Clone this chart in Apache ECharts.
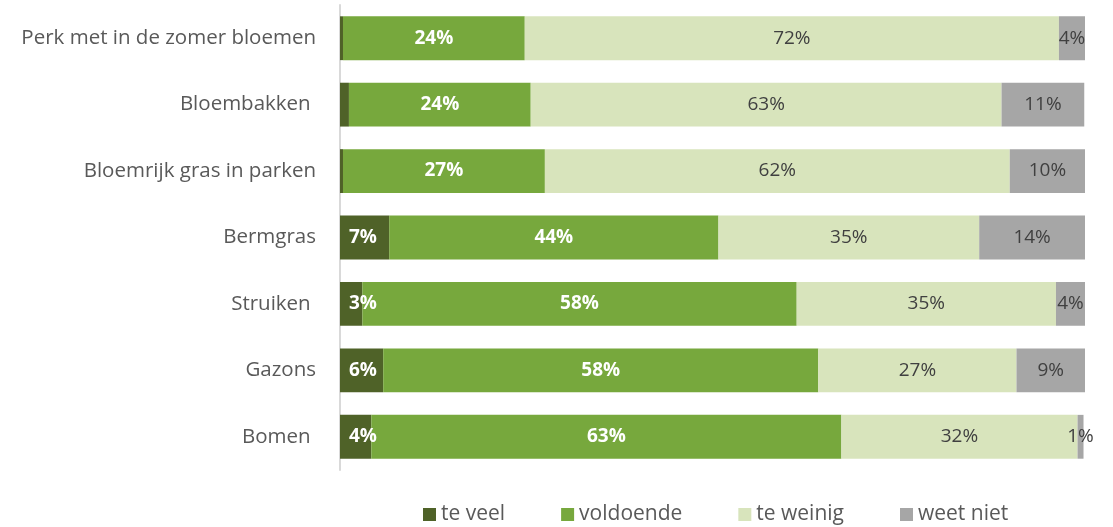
<!DOCTYPE html>
<html><head><meta charset="utf-8">
<script src="https://cdn.jsdelivr.net/npm/echarts@6/dist/echarts.min.js"></script>
<style>html,body{margin:0;padding:0;background:#fff}#c{width:1113px;height:527px}</style>
</head><body><div id="c"></div>
<script>
var categories = ["Perk met in de zomer bloemen","Bloembakken ","Bloemrijk gras in parken","Bermgras","Struiken ","Gazons","Bomen "];
var teVeel    = [0.4, 1.2, 0.4, 6.6, 3.0, 5.8, 4.2];
var voldoende = [24.4, 24.4, 27.1, 44.2, 58.3, 58.4, 63.1];
var teWeinig  = [71.7, 63.2, 62.4, 35.0, 34.8, 26.6, 31.7];
var weetNiet  = [3.8, 11.1, 10.1, 14.2, 4.0, 9.3, 0.8];
var teVeelLabels = ["", "", "", "7%", "3%", "6%", "4%"];
var voldoendeLabels = ["24%","24%","27%","44%","58%","58%","63%"];
var teWeinigLabels = ["72%","63%","62%","35%","35%","27%","32%"];
var weetNietLabels = ["4%","11%","10%","14%","4%","9%","1%"];

var FONT = "Open Sans";
function mk(name, vals, labels, color, txtColor, bold, pos) {
  return {
    name: name, type: 'bar', stack: 'a', barCategoryGap: '34%',
    itemStyle: {color: color},
    label: {show: true, position: pos || 'inside', distance: 9, color: txtColor, fontFamily: FONT, fontSize: 19,
      fontWeight: bold ? 'bold' : 'normal',
      formatter: function(p){ return labels[p.dataIndex]; }},
    emphasis: {disabled: true},
    data: vals
  };
}
var chart = echarts.init(document.getElementById('c'));
chart.setOption({
  animation: false,
  grid: {left: 340, right: 28, top: 5, bottom: 57},
  legend: {bottom: -3, left: 418, itemWidth: 13, itemHeight: 13, itemGap: 56, icon: 'rect',
    textStyle: {fontFamily: FONT, fontSize: 21, color: '#595959'},
    data: ['te veel','voldoende','te weinig','weet niet']},
  xAxis: {type: 'value', min: 0, max: 100, show: false},
  yAxis: {type: 'category', inverse: true, data: categories,
    axisLine: {show: true, lineStyle: {color: '#d9d9d9', width: 2}},
    axisTick: {show: false},
    axisLabel: {fontFamily: FONT, fontSize: 20.5, color: '#595959', margin: 24}},
  series: [
    mk('te veel', teVeel, teVeelLabels, '#4f6228', '#ffffff', true, 'insideLeft'),
    mk('voldoende', voldoende, voldoendeLabels, '#77a83d', '#ffffff', true),
    mk('te weinig', teWeinig, teWeinigLabels, '#d8e4bc', '#404040', false),
    mk('weet niet', weetNiet, weetNietLabels, '#a6a6a6', '#404040', false)
  ]
});
</script></body></html>
